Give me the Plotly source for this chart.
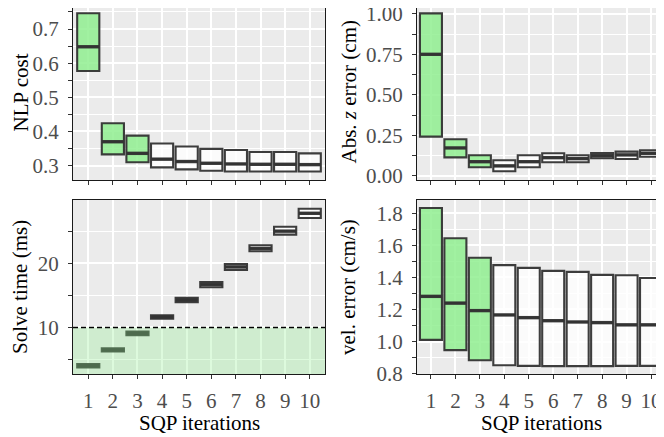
import plotly.graph_objects as go

# ---------------- data ----------------
iters = [1, 2, 3, 4, 5, 6, 7, 8, 9, 10]

nlp_q1 = [0.577, 0.333, 0.310, 0.295, 0.289, 0.285, 0.283, 0.283, 0.283, 0.283]
nlp_med = [0.648, 0.370, 0.336, 0.319, 0.312, 0.307, 0.305, 0.304, 0.304, 0.303]
nlp_q3 = [0.746, 0.424, 0.388, 0.365, 0.356, 0.349, 0.346, 0.340, 0.340, 0.336]

z_q1 = [0.243, 0.115, 0.054, 0.029, 0.054, 0.085, 0.085, 0.109, 0.105, 0.119]
z_med = [0.751, 0.173, 0.088, 0.062, 0.088, 0.113, 0.107, 0.125, 0.130, 0.140]
z_q3 = [1.004, 0.227, 0.128, 0.097, 0.128, 0.140, 0.128, 0.142, 0.150, 0.159]

t_q1 = [3.78, 6.25, 8.80, 11.35, 13.95, 16.27, 18.96, 21.87, 24.45, 27.05]
t_med = [4.04, 6.50, 9.07, 11.63, 14.28, 16.68, 19.43, 22.30, 25.00, 27.78]
t_q3 = [4.30, 6.75, 9.35, 11.90, 14.60, 17.09, 19.89, 22.80, 25.69, 28.49]

v_q1 = [1.010, 0.946, 0.883, 0.852, 0.848, 0.846, 0.846, 0.846, 0.848, 0.848]
v_med = [1.282, 1.240, 1.193, 1.166, 1.149, 1.130, 1.122, 1.118, 1.104, 1.104]
v_q3 = [1.834, 1.645, 1.523, 1.477, 1.460, 1.441, 1.435, 1.416, 1.414, 1.397]

time_budget = 10
n_green = 3

# ---------------- style ----------------
FONT = "Liberation Serif"
FS = 21
GREEN = "rgba(144,238,144,0.85)"
WHITE = "rgba(255,255,255,0.8)"
EDGE = "rgba(51,51,51,0.95)"
PAGE_W, PAGE_H = 664, 437
OFF = 8  # default page body margin
W, H = PAGE_W - OFF, PAGE_H - OFF


def px_x(p):
    return (p - OFF) / W


def px_y(p):
    return 1 - (p - OFF) / H


fig = go.Figure()

panels = [
    ("x", "y", nlp_q1, nlp_med, nlp_q3),
    ("x2", "y2", z_q1, z_med, z_q3),
    ("x3", "y3", t_q1, t_med, t_q3),
    ("x4", "y4", v_q1, v_med, v_q3),
]

for xa, ya, q1, med, q3 in panels:
    for sl, fc in ((slice(0, n_green), GREEN), (slice(n_green, None), WHITE)):
        fig.add_trace(go.Box(
            x=iters[sl], q1=q1[sl], median=med[sl], q3=q3[sl],
            lowerfence=q1[sl], upperfence=q3[sl],
            width=0.9, whiskerwidth=0, boxpoints=False,
            fillcolor=fc, line=dict(color=EDGE, width=2.1),
            xaxis=xa, yaxis=ya, showlegend=False, hoverinfo="skip",
        ))
    # thicker median line (ggplot style)
    fig.add_trace(go.Scatter(
        x=iters, y=med, mode="markers",
        marker=dict(symbol="line-ew", size=15.5,
                    line=dict(color=EDGE, width=3.4)),
        xaxis=xa, yaxis=ya, showlegend=False, hoverinfo="skip",
    ))

# panel positions in page pixels
LX = (73, 325)
RX = (417, 664)
TY = (8, 180)
BY = (200, 374)

common_x = dict(
    tickvals=iters, ticks="outside", ticklen=4, tickwidth=1.1,
    tickcolor="#333333", showline=True, linecolor="#1a1a1a", linewidth=1.2,
    mirror=True, showgrid=True, gridcolor="white", gridwidth=1.6,
    zeroline=False, tickfont=dict(family=FONT, size=FS, color="#4D4D4D"),
    ticklabelstandoff=4, automargin=False,
)
common_y = dict(
    ticks="outside", ticklen=4, tickwidth=1.1, tickcolor="#333333",
    showline=True, linecolor="#1a1a1a", linewidth=1.2,
    showgrid=True, gridcolor="white", gridwidth=1.6, zeroline=False,
    tickfont=dict(family=FONT, size=FS, color="#4D4D4D"),
    ticklabelstandoff=5, automargin=False, ticklabeloverflow="allow",
)


def minor(d):
    return dict(dtick=d, ticks="outside", ticklen=4, tickcolor="#333333",
                tickwidth=1.1, showgrid=True, gridcolor="white", gridwidth=0.7)


fig.update_layout(
    width=W, height=H,
    margin=dict(l=0, r=0, t=0, b=0, autoexpand=False),
    paper_bgcolor="white", plot_bgcolor="#EBEBEB",
    font=dict(family=FONT, size=FS, color="black"),
    xaxis=dict(common_x, domain=[px_x(LX[0]), px_x(LX[1])], range=[0.38, 10.62],
               anchor="y", showticklabels=False),
    yaxis=dict(common_y, domain=[px_y(TY[1]), px_y(TY[0])], range=[0.258, 0.7615],
               anchor="x", mirror=True, tickvals=[0.3, 0.4, 0.5, 0.6, 0.7],
               minor=minor(0.05)),
    xaxis2=dict(common_x, domain=[px_x(RX[0]), px_x(RX[1])], range=[0.43, 10.53],
                anchor="y2", showticklabels=False),
    yaxis2=dict(common_y, domain=[px_y(TY[1]), px_y(TY[0])], range=[-0.025, 1.037],
                anchor="x2", tickvals=[0, 0.25, 0.5, 0.75, 1.0], tickformat=".2f",
                minor=minor(0.125)),
    xaxis3=dict(common_x, domain=[px_x(LX[0]), px_x(LX[1])], range=[0.38, 10.62],
                anchor="y3"),
    yaxis3=dict(common_y, domain=[px_y(BY[1]), px_y(BY[0])], range=[2.75, 29.85],
                anchor="x3", mirror=True, tickvals=[10, 20],
                minor=dict(minor(5), tick0=0)),
    xaxis4=dict(common_x, domain=[px_x(RX[0]), px_x(RX[1])], range=[0.43, 10.53],
                anchor="y4"),
    yaxis4=dict(common_y, domain=[px_y(BY[1]), px_y(BY[0])], range=[0.797, 1.884],
                anchor="x4", tickvals=[0.8, 1.0, 1.2, 1.4, 1.6, 1.8], tickformat=".1f",
                minor=minor(0.1)),
)

# real-time budget shading and line
fig.add_shape(type="rect", xref="x3 domain", yref="y3", x0=0, x1=1,
              y0=2.75, y1=time_budget, fillcolor="rgba(144,238,144,0.3)",
              line=dict(width=0), layer="above")
fig.add_shape(type="line", xref="x3 domain", yref="y3", x0=0, x1=1,
              y0=time_budget, y1=time_budget,
              line=dict(color="black", width=1.5, dash="5px,3px"), layer="above")


def ytitle(text, xpx, y0, y1):
    fig.add_annotation(text=text, x=px_x(xpx), y=px_y((y0 + y1) / 2),
                       xref="paper", yref="paper", textangle=-90,
                       showarrow=False, xanchor="center", yanchor="middle",
                       font=dict(family=FONT, size=FS, color="black"))


ytitle("NLP cost", 20, 5, 180)
ytitle("Abs. <i>z</i> error (cm)", 348, 5, 180)
ytitle("Solve time (ms)", 20, *BY)
ytitle("vel. error (cm/s)", 348, *BY)

for xc in ((LX[0] + LX[1]) / 2, 541):
    fig.add_annotation(text="SQP iterations", x=px_x(xc), y=px_y(423),
                       xref="paper", yref="paper", showarrow=False,
                       xanchor="center", yanchor="middle",
                       font=dict(family=FONT, size=FS, color="black"))

fig.write_html("out.html")
